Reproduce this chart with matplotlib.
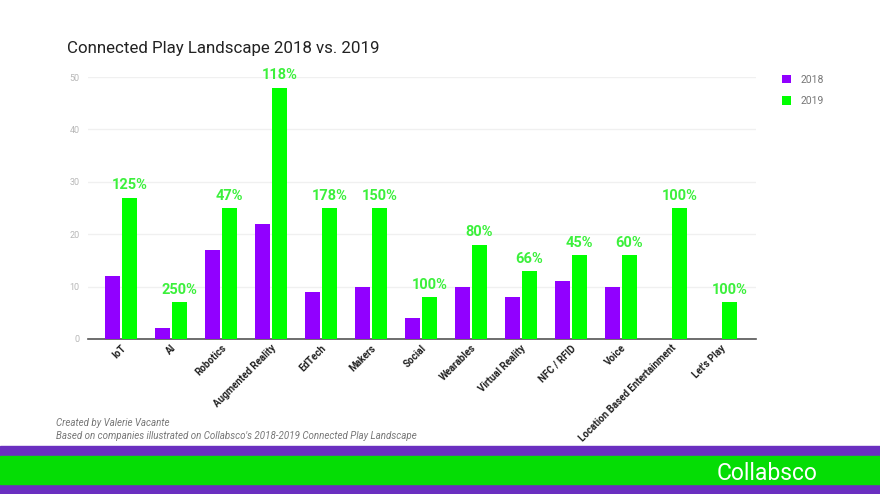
import numpy as np
import matplotlib.pyplot as plt
from matplotlib.patches import Rectangle

categories = ['IoT', 'AI', 'Robotics', 'Augmented Reality', 'EdTech', 'Makers',
              'Social', 'Wearables', 'Virtual Reality', 'NFC / RFID', 'Voice',
              'Location Based Entertainment', "Let's Play"]
counts_2018 = [12, 2, 17, 22, 9, 10, 4, 10, 8, 11, 10, 0, 0]
counts_2019 = [27, 7, 25, 48, 25, 25, 8, 18, 13, 16, 16, 25, 7]
growth = ['125%', '250%', '47%', '118%', '178%', '150%', '100%', '80%',
          '66%', '45%', '60%', '100%', '100%']

PURPLE = '#9100ff'
GREEN = '#00ff00'
LABEL_GREEN = '#3cf03c'

plt.rcParams['font.family'] = ['Roboto', 'DejaVu Sans']

fig = plt.figure(figsize=(8.8, 4.94), dpi=100)
fig.set_facecolor('white')

ax = fig.add_axes([0.1, 0.314, 0.759, 0.53])
x = np.arange(len(categories))
w = 0.3
ax.bar(x - 0.17, counts_2018, w, color=PURPLE, label='2018', zorder=3)
ax.bar(x + 0.17, counts_2019, w, color=GREEN, label='2019', zorder=3)

for xi, v, g in zip(x, counts_2019, growth):
    ax.text(xi + 0.17, v + 1.0, g, ha='center', va='bottom', color=LABEL_GREEN,
            fontsize=10.5, fontweight='bold', clip_on=False)

ax.set_xlim(-0.66, 12.7)
ax.set_ylim(0, 50)
ax.set_yticks([0, 10, 20, 30, 40, 50])
ax.grid(axis='y', color='#f0f0f0', linewidth=1, zorder=0)
ax.tick_params(axis='y', length=0, labelsize=6.5, labelcolor='#b8b8b8', pad=6)
ax.tick_params(axis='x', length=0, pad=3)
ax.set_xticks(x)
ax.set_xticklabels(categories, rotation=45, ha='right', rotation_mode='anchor',
                   fontsize=7, fontweight='bold', color='#222222')
for side in ['top', 'right', 'left']:
    ax.spines[side].set_visible(False)
ax.spines['bottom'].set_color('#555555')
ax.spines['bottom'].set_linewidth(1.2)

ax.legend(loc='upper left', bbox_to_anchor=(1.025, 1.045), frameon=False,
          fontsize=7.5, labelcolor='#777777', handlelength=0.9, handleheight=0.9,
          handletextpad=0.9, labelspacing=1.1)

fig.text(67 / 880, 1 - 48 / 494, 'Connected Play Landscape 2018 vs. 2019',
         fontsize=12.2, color='#222222', va='center', ha='left')

fig.text(56 / 880, 1 - 423 / 494, 'Created by Valerie Vacante', fontsize=7,
         style='italic', color='#777777', va='center')
fig.text(56 / 880, 1 - 436 / 494,
         "Based on companies illustrated on Collabsco's 2018-2019 Connected Play Landscape",
         fontsize=7, style='italic', color='#777777', va='center')

# footer band
fig.patches.append(Rectangle((0, 0), 1, 48 / 494, transform=fig.transFigure,
                             color='#6a2fc0', zorder=0))
fig.patches.append(Rectangle((0, 10 / 494), 1, 28 / 494, transform=fig.transFigure,
                             color='#05dd05', zorder=1))
fig.text(767 / 880, 1 - 473 / 494, 'Collabsco', fontsize=16.5, color='white',
         ha='center', va='center')

fig.savefig('out.png', dpi=100)
